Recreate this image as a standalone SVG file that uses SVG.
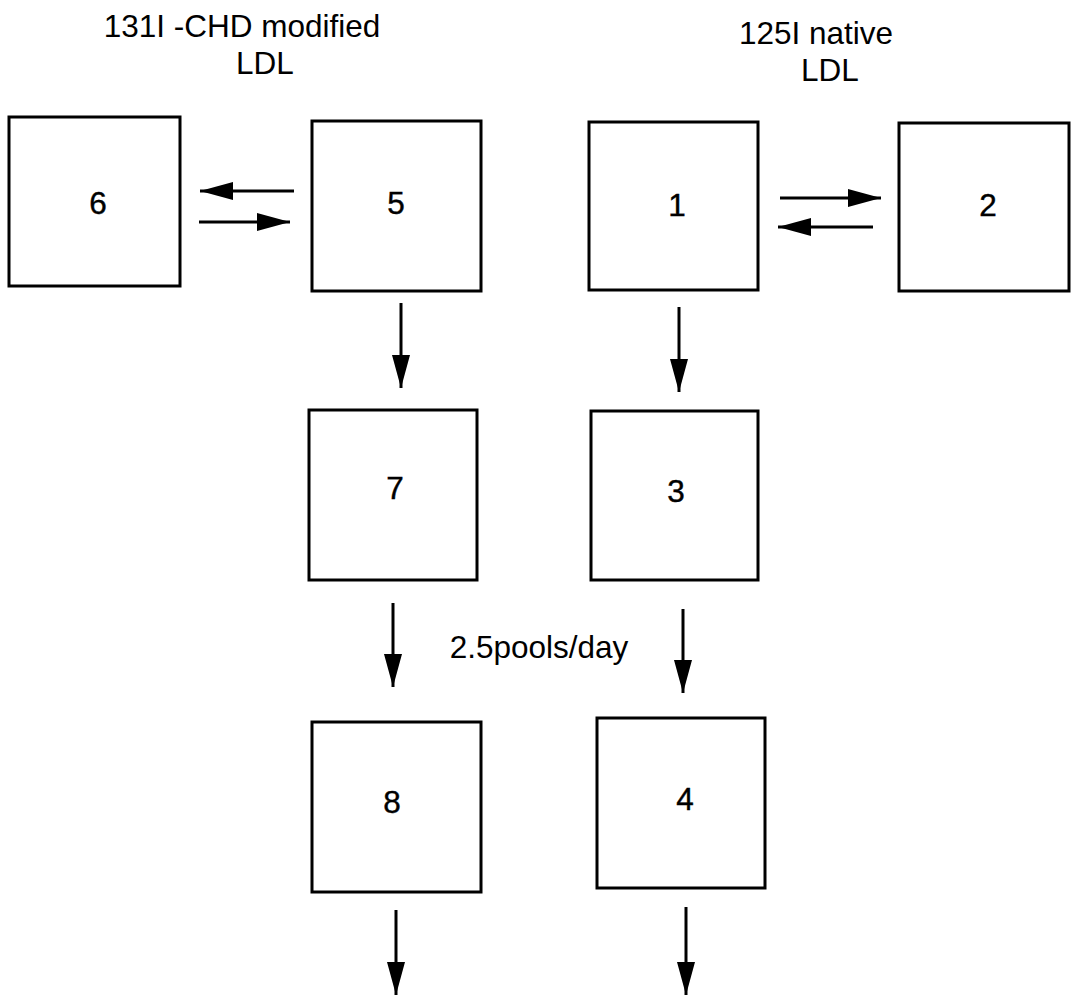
<svg xmlns="http://www.w3.org/2000/svg" width="1073" height="1000" viewBox="0 0 1073 1000">
<style>
.box{fill:#fff;stroke:#000;stroke-width:3}
.num{font-family:"Liberation Sans",Arial,sans-serif;font-size:31.5px;text-anchor:middle;fill:#000;stroke:#000;stroke-width:0.4}
.lbl{font-family:"Liberation Sans",Arial,sans-serif;font-size:31.5px;text-anchor:middle;fill:#000}
.arr{stroke:#000;stroke-width:3;fill:none;marker-end:url(#ah)}
</style>
<defs>
<marker id="ah" markerUnits="userSpaceOnUse" markerWidth="36" markerHeight="20" refX="33" refY="9" orient="auto">
<path d="M0,0 L33,9 L0,18 Z" fill="#000"/>
</marker>
</defs>
<rect width="1073" height="1000" fill="#fff"/>
<g id="titles">
<text class="lbl" x="242" y="37">131I -CHD modified</text>
<text class="lbl" x="265" y="74">LDL</text>
<text class="lbl" x="816" y="44">125I native</text>
<text class="lbl" x="830" y="81">LDL</text>
</g>
<g id="node6"><rect class="box" x="9" y="117" width="171" height="169"/><text class="num" x="98" y="214">6</text></g>
<g id="node5"><rect class="box" x="312" y="121" width="169" height="170"/><text class="num" x="396" y="214">5</text></g>
<g id="node1"><rect class="box" x="589" y="122" width="169" height="168"/><text class="num" x="677" y="216">1</text></g>
<g id="node2"><rect class="box" x="899" y="123" width="170" height="168"/><text class="num" x="988" y="216">2</text></g>
<g id="node7"><rect class="box" x="309" y="410" width="168" height="170"/><text class="num" x="395" y="499">7</text></g>
<g id="node3"><rect class="box" x="591" y="411" width="167" height="169"/><text class="num" x="676" y="502">3</text></g>
<g id="node8"><rect class="box" x="312" y="722" width="169" height="170"/><text class="num" x="392" y="813">8</text></g>
<g id="node4"><rect class="box" x="597" y="718" width="168" height="170"/><text class="num" x="685" y="810">4</text></g>
<g id="connectors">
<line class="arr" x1="294" y1="191" x2="200" y2="191"/>
<line class="arr" x1="199" y1="222" x2="290" y2="222"/>
<line class="arr" x1="780" y1="198" x2="881" y2="198"/>
<line class="arr" x1="873" y1="227" x2="778" y2="227"/>
<line class="arr" x1="401" y1="303" x2="401" y2="388"/>
<line class="arr" x1="679" y1="307" x2="679" y2="392"/>
<line class="arr" x1="393" y1="603" x2="393" y2="687"/>
<line class="arr" x1="683" y1="609" x2="683" y2="693"/>
<line class="arr" x1="396" y1="910" x2="396" y2="995"/>
<line class="arr" x1="686" y1="907" x2="686" y2="995"/>
</g>
<text class="lbl" x="539" y="658">2.5pools/day</text>
</svg>
